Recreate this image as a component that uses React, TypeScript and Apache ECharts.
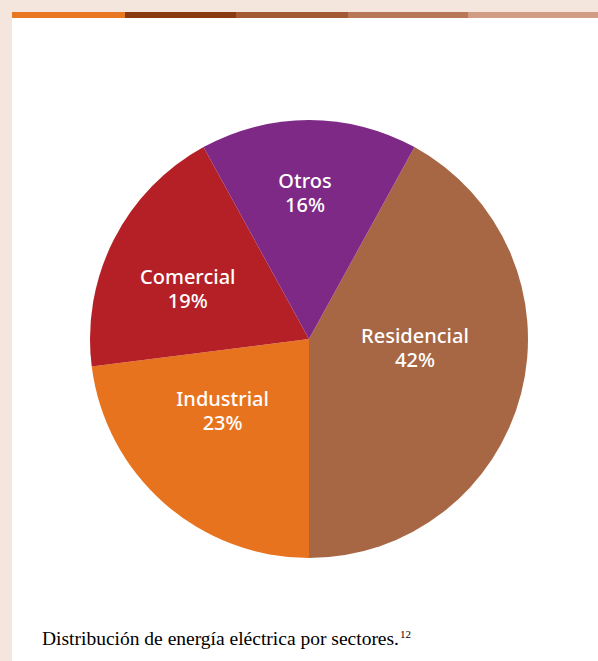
import React, { useEffect, useRef } from "react";
import * as echarts from "echarts";

const categories = ["Residencial", "Industrial", "Comercial", "Otros"];
const values = [42, 23, 19, 16];
const sliceColors = ["#a86744", "#e8731f", "#b52027", "#7e2986"];
const labelShift: [number, number][] = [
  [-3, -19],
  [-12, -13],
  [-21, 1],
  [-4, -34],
];
const barColors = ["#e87722", "#8a3a10", "#a25934", "#b87858", "#d09c84"];
const barEdges = [12, 125, 236, 348, 468, 598];

export default function App() {
  const ref = useRef<HTMLDivElement>(null);
  useEffect(() => {
    if (!ref.current) return;
    const chart = echarts.init(ref.current, undefined, { renderer: "svg" });
    const bars = barColors.map((c, i) => ({
      type: "rect",
      shape: { x: barEdges[i], y: 12, width: barEdges[i + 1] - barEdges[i], height: 6 },
      style: { fill: c },
      z: 1,
    }));
    chart.setOption({
      animation: false,
      backgroundColor: "#f4e6dd",
      graphic: [
        {
          type: "rect",
          shape: { x: 12, y: 12, width: 586, height: 649 },
          style: { fill: "#ffffff" },
          z: 0,
        },
        ...bars,
        {
          type: "text",
          x: 42,
          y: 649,
          style: {
            text: "{m|Distribución de energía eléctrica por sectores.}{s|12}",
            textVerticalAlign: "bottom",
            rich: {
              m: {
                fontFamily: "Liberation Serif",
                fontSize: 19.5,
                color: "#1a1a1a",
              },
              s: {
                fontFamily: "Liberation Serif",
                fontSize: 11,
                color: "#1a1a1a",
                padding: [0, 0, 10, 1],
              },
            },
          },
          z: 2,
        },
      ],
      series: [
        {
          type: "pie",
          center: [309, 339],
          radius: [0, 219],
          startAngle: 61.2,
          clockwise: true,
          silent: true,
          itemStyle: { borderWidth: 0 },
          label: {
            show: true,
            position: "inside",
            color: "#ffffff",
            fontFamily: "Noto Sans",
            fontSize: 20,
            fontWeight: 500,
            lineHeight: 24,
            align: "center",
            formatter: (p: any) => `${p.name}\n${p.value}%`,
          },
          labelLine: { show: false },
          labelLayout: (p: any) => ({
            dx: labelShift[p.dataIndex][0],
            dy: labelShift[p.dataIndex][1],
          }),
          data: categories.map((name, i) => ({
            name,
            value: values[i],
            itemStyle: { color: sliceColors[i] },
          })),
        },
      ],
    });
    return () => chart.dispose();
  }, []);
  return (
    <div
      ref={ref}
      style={{ position: "fixed", left: 0, top: 0, width: 598, height: 661 }}
    />
  );
}
